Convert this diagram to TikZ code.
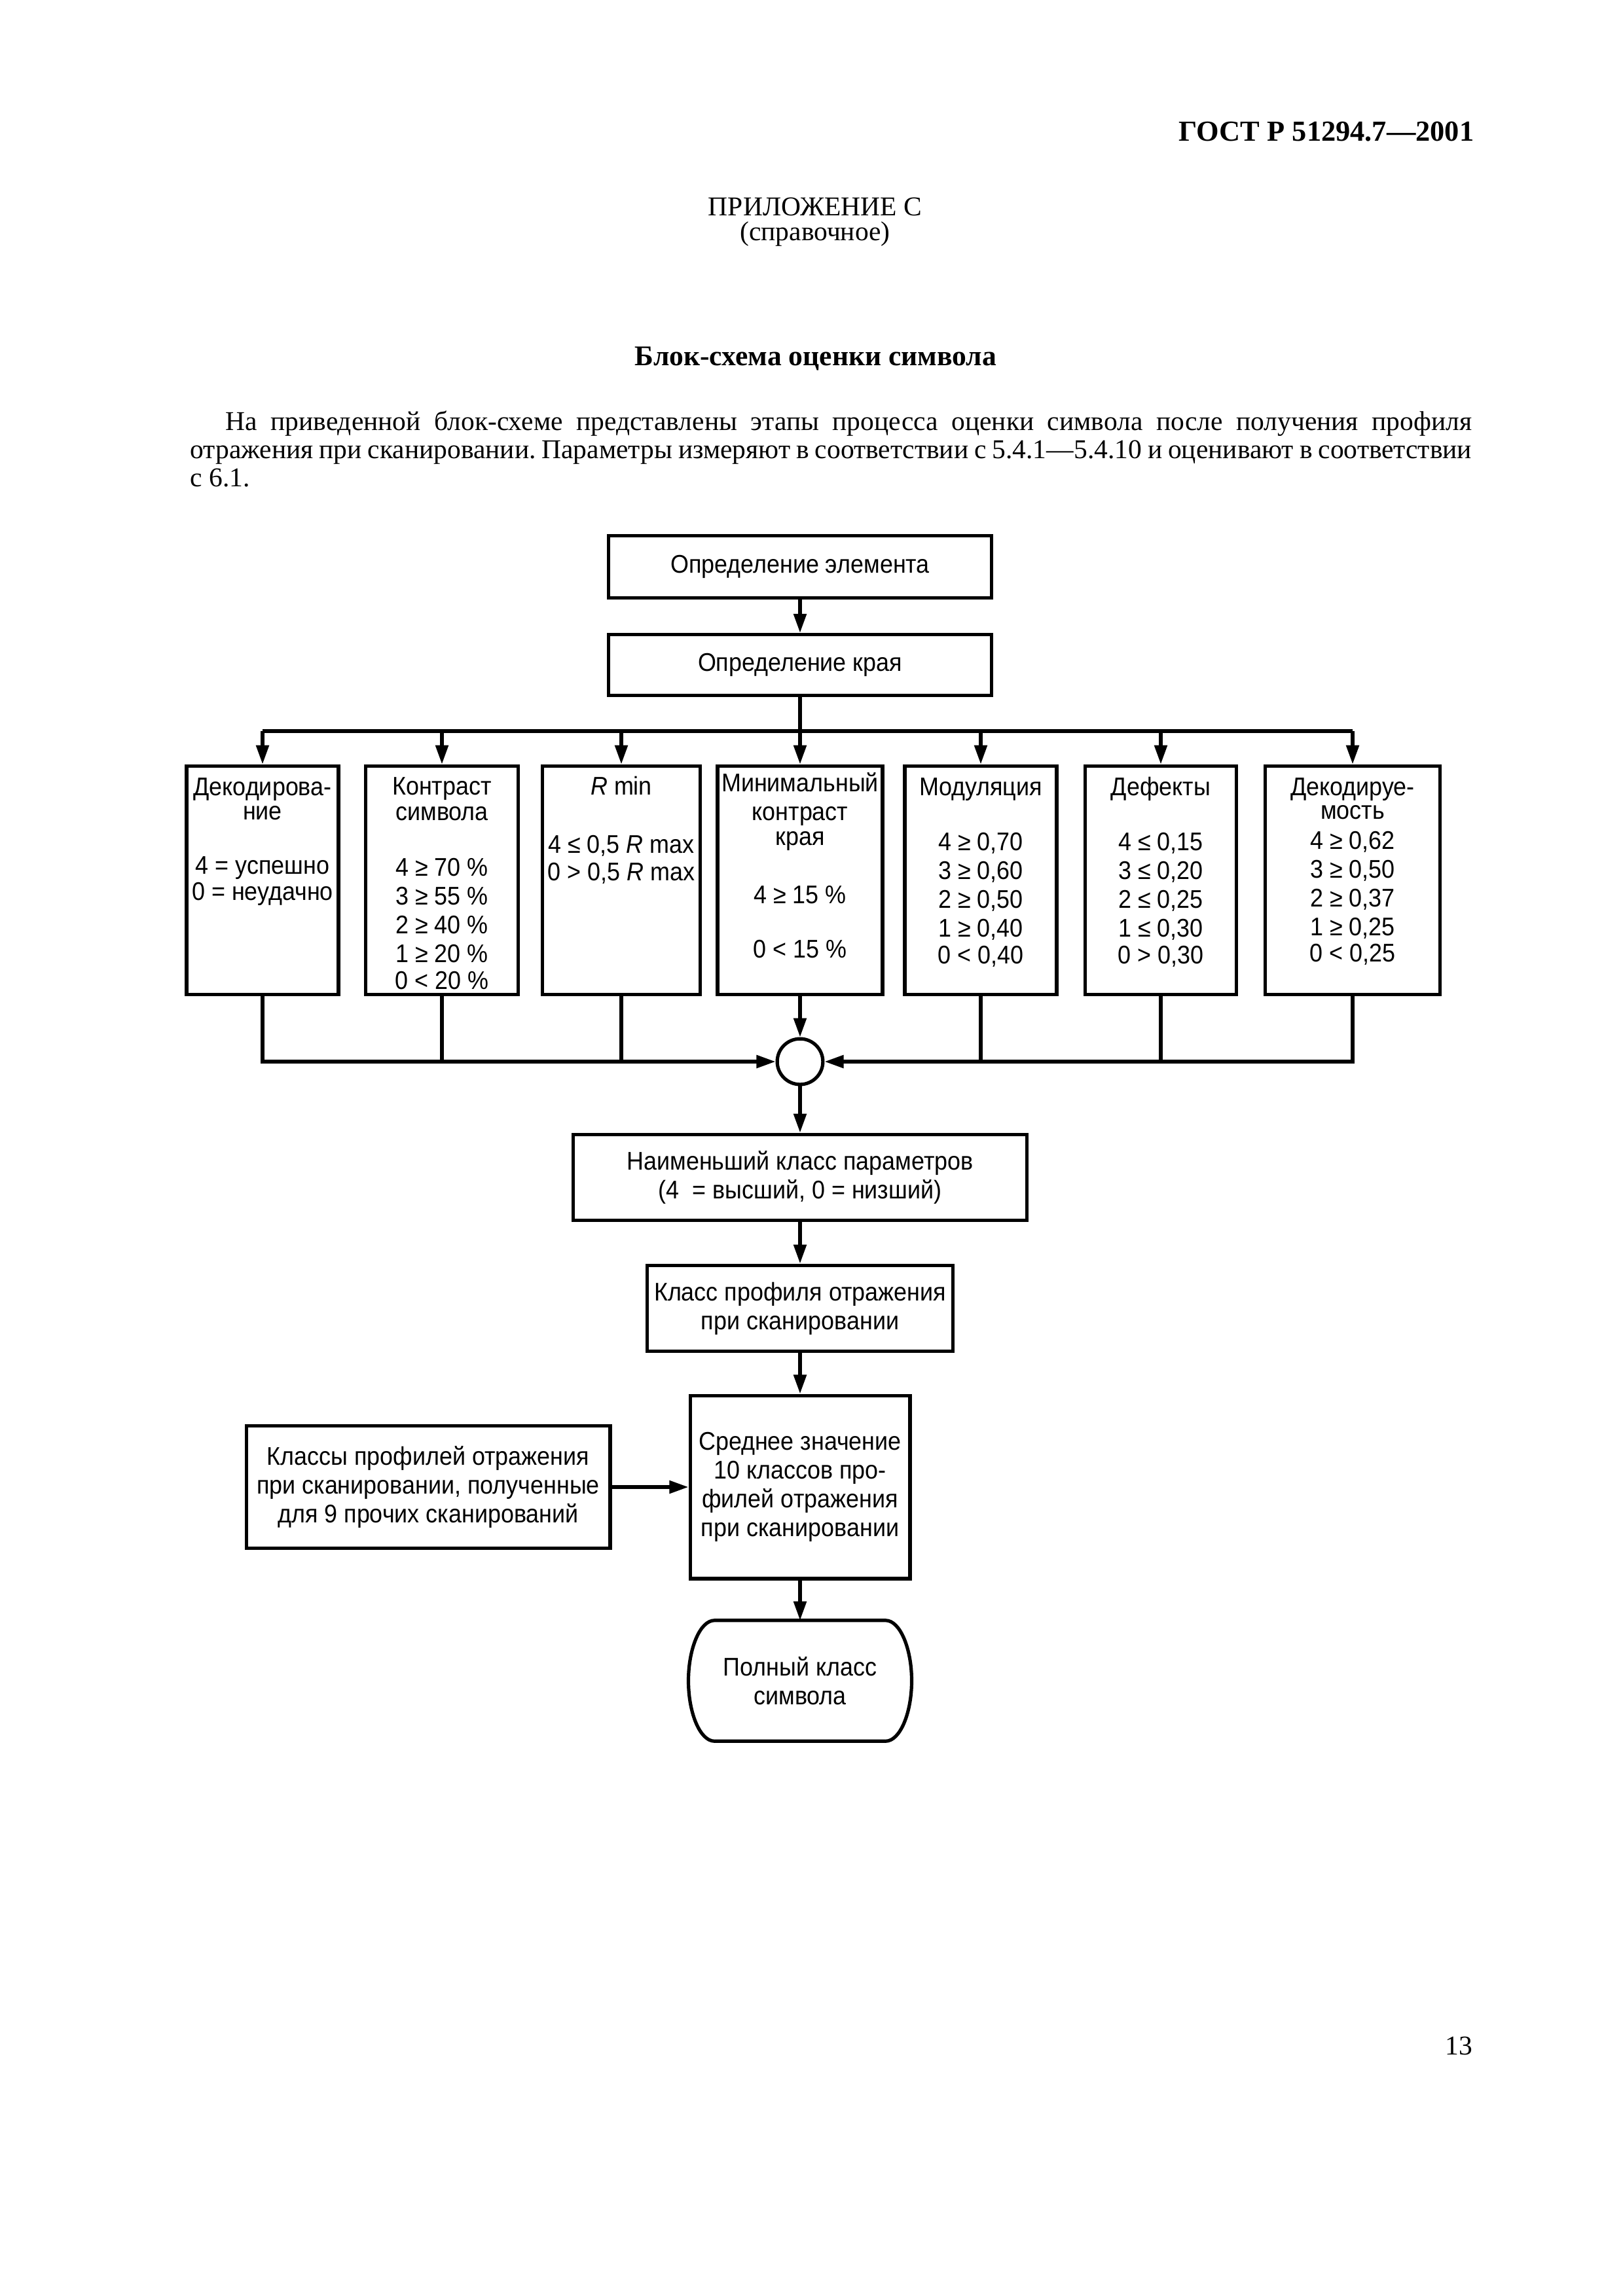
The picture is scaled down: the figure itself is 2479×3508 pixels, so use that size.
\documentclass[tikz,border=0pt]{standalone}
\usepackage{fontspec}
\setmainfont{Liberation Serif}
\newfontfamily\boxfont[FakeStretch=0.92]{Liberation Sans}
\usetikzlibrary{arrows.meta,positioning}

\begin{document}
\begin{tikzpicture}[x=0.0846667mm, y=-0.0846667mm, line width=1.25pt,
    box/.style={draw, inner sep=0pt, align=center,
      font=\boxfont\fontsize{9.4}{10.6}\selectfont},
    txt/.style={inner sep=0pt},
    arr/.style={-{Triangle[length=7pt,width=4.6pt]}}]
  % page
  \path[fill=white] (0,0) rectangle (2479,3508);
  \useasboundingbox (0,0) rectangle (2479,3508);

  % page head
  \node[txt, anchor=base east, font=\bfseries\fontsize{10.7}{13}\selectfont] (gost) at (2254,215) {ГОСТ Р 51294.7—2001};
  \node[txt, anchor=base, font=\fontsize{10}{12}\selectfont] (annex) at (1245,329) {ПРИЛОЖЕНИЕ С};
  \node[txt, anchor=base, font=\fontsize{10}{12}\selectfont] (ref) at (1245,367) {(справочное)};
  \node[txt, anchor=base, font=\bfseries\fontsize{10.5}{12}\selectfont] (title) at (1246,558) {Блок-схема оценки символа};
  \node[txt, anchor=base west, text width=471.6pt, align=justify, font=\fontsize{10}{10.44}\selectfont\frenchspacing] (intro) at (288,657)
    {\hspace*{13pt}На приведенной блок-схеме представлены этапы процесса оценки символа после получения профиля\linebreak
     отражения при сканировании. Параметры измеряют в соответствии с 5.4.1—5.4.10 и оценивают в соответствии\linebreak
     с 6.1.};

  % edge detection
  \node[box, minimum width=140.9pt, minimum height=23pt] (elem) at (1222,866) {Определение элемента};
  \node[box, minimum width=140.9pt, minimum height=22.4pt] (edge) at (1222,1016) {Определение края};
  \coordinate (bus) at (1222,1117);

  % parameter boxes
  \node[box] (b1) at (401,1345) {\parbox[c][84.2pt][t]{55.9pt}{\centering\rule{0pt}{11pt}Декодирова-\\[-1.7pt]ние\\[9.3pt]4 = успешно\\[-1pt]0 = неудачно}};
  \node[box] (b2) at (675,1345) {\parbox[c][84.2pt][t]{56.2pt}{\centering\rule{0pt}{10.6pt}Контраст\\[-1.2pt]символа\\[10pt]4 ≥ 70 \%\\3 ≥ 55 \%\\2 ≥ 40 \%\\1 ≥ 20 \%\\[-0.8pt]0 < 20 \%}};
  \node[box] (b3) at (949,1345) {\parbox[c][84.2pt][t]{58.1pt}{\centering\rule{0pt}{10.6pt}\textit{R} min\\[10.8pt]4 ≤ 0,5 \textit{R} max\\[-0.3pt]0 > 0,5 \textit{R} max}};
  \node[box] (b4) at (1222,1345) {\parbox[c][84.2pt][t]{60.7pt}{\centering\rule{0pt}{9.4pt}Минимальный\\контраст\\[-1.5pt]края\\[11pt]4 ≥ 15 \%\\[9.3pt]0 < 15 \%}};
  \node[box] (b5) at (1498,1345) {\parbox[c][84.2pt][t]{55.9pt}{\centering\rule{0pt}{10.8pt}Модуляция\\[9.8pt]4 ≥ 0,70\\3 ≥ 0,60\\2 ≥ 0,50\\1 ≥ 0,40\\[-0.8pt]0 < 0,40}};
  \node[box] (b6) at (1773,1345) {\parbox[c][84.2pt][t]{55.7pt}{\centering\rule{0pt}{10.8pt}Дефекты\\[9.8pt]4 ≤ 0,15\\3 ≤ 0,20\\2 ≤ 0,25\\1 ≤ 0,30\\[-0.8pt]0 > 0,30}};
  \node[box] (b7) at (2066,1345) {\parbox[c][84.2pt][t]{64.3pt}{\centering\rule{0pt}{11pt}Декодируе-\\[-2pt]мость\\[0.4pt]4 ≥ 0,62\\3 ≥ 0,50\\2 ≥ 0,37\\1 ≥ 0,25\\[-0.8pt]0 < 0,25}};

  % grading chain
  \node[box, circle, minimum size=16.8pt] (join) at (1222,1622) {};
  \node[box, minimum width=167pt, minimum height=31.7pt] (least) at (1222,1799) {Наименьший класс параметров\\(4~ = высший, 0 = низший)};
  \node[box, minimum width=112.6pt, minimum height=31.7pt] (profile) at (1222,1999) {Класс профиля отражения\\при сканировании};
  \node[box, minimum width=80.9pt, minimum height=67.4pt] (avg) at (1222,2272) {Среднее значение\\10 классов про-\\филей отражения\\при сканировании};
  \node[box, minimum width=133.9pt, minimum height=44.9pt] (others) at (654,2272) {Классы профилей отражения\\при сканировании, полученные\\для 9 прочих сканирований};
  \node[box, draw=none, minimum width=80.9pt, minimum height=43.2pt] (total) at (1222,2568) {Полный класс\\символа};
  \draw ([xshift=9.6pt]total.north west) -- ([xshift=-9.6pt]total.north east)
    .. controls +(5.3pt,0) and +(0,11.9pt) .. (total.east)
    .. controls +(0,-11.9pt) and +(5.3pt,0) .. ([xshift=-9.6pt]total.south east)
    -- ([xshift=9.6pt]total.south west)
    .. controls +(-5.3pt,0) and +(0,-11.9pt) .. (total.west)
    .. controls +(0,11.9pt) and +(-5.3pt,0) .. ([xshift=9.6pt]total.north west) -- cycle;

  % connectors
  \draw[arr] (elem) -- (edge);
  \draw[arr] (edge) -- (b4);
  \draw (b1 |- bus) -- (b7 |- bus);
  \foreach \b in {b1,b2,b3,b5,b6,b7}
    \draw[arr] (\b |- bus) -- (\b);
  \draw[arr] (b1.south) |- (join.west);
  \draw[arr] (b7.south) |- (join.east);
  \foreach \b in {b2,b3,b5,b6}
    \draw (\b.south) -- (\b.south |- join);
  \draw[arr] (b4) -- (join);
  \draw[arr] (join) -- (least);
  \draw[arr] (least) -- (profile);
  \draw[arr] (profile) -- (avg);
  \draw[arr] (others) -- (avg);
  \draw[arr] (avg) -- (total);

  % page number
  \node[txt, anchor=base east, font=\fontsize{10}{12}\selectfont] (page) at (2252,3139) {13};
\end{tikzpicture}
\end{document}
